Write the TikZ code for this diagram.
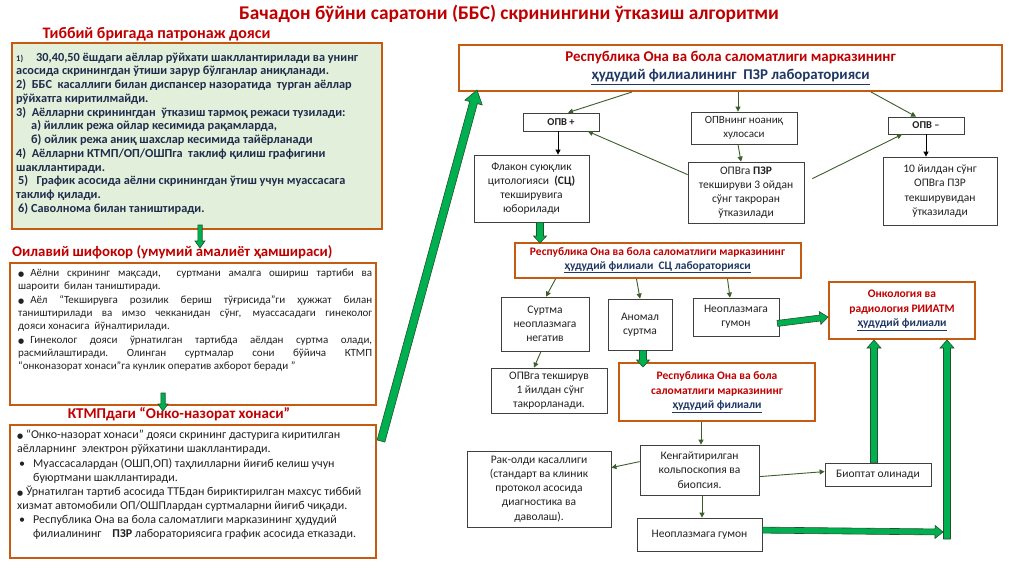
\documentclass[tikz,border=0pt]{standalone}
\usepackage{fontspec}
\setmainfont{Carlito}
\newfontfamily\symfont{DejaVu Sans}
\usetikzlibrary{arrows.meta,calc}
\definecolor{tred}{HTML}{C00000}
\definecolor{tblue}{HTML}{1F3864}
\definecolor{borange}{HTML}{C55A11}
\definecolor{lgreen}{HTML}{E2EFDA}
\definecolor{fgreen}{HTML}{00B050}
\definecolor{dgreen}{HTML}{24502A}
\definecolor{cgreen}{HTML}{3B5E2B}
\definecolor{gborder}{HTML}{404040}
\definecolor{ltext}{HTML}{1F2D4D}
\definecolor{dtext}{HTML}{222222}
\newcommand{\blu}[1]{\textcolor{tblue}{\underline{#1}}}
\newcommand{\bul}{{\symfont\fontsize{7}{8}\selectfont ●}}
\newcommand{\fatarrow}[5]{%
 \path[fatstyle] let \p1=(#1), \p2=(#2), \n1={atan2(\y2-\y1,\x2-\x1)}, \n2={veclen(\x2-\x1,\y2-\y1)-#5pt} in
 ($(\p1)+({\n1+90}:{#3pt})$) -- ($(\p1)+({\n1}:{\n2})+({\n1+90}:{#3pt})$) -- ($(\p1)+({\n1}:{\n2})+({\n1+90}:{#4pt})$) -- (\p2) -- ($(\p1)+({\n1}:{\n2})+({\n1-90}:{#4pt})$) -- ($(\p1)+({\n1}:{\n2})+({\n1-90}:{#3pt})$) -- ($(\p1)+({\n1-90}:{#3pt})$) -- cycle;}
\tikzset{
 gbox/.style={draw=gborder, line width=0.8pt, fill=white, align=center, inner sep=1pt, text=dtext, font=\fontsize{11.5}{14.2}\selectfont},
 obox/.style={draw=borange, line width=2pt, fill=white, align=center, inner sep=1pt},
 conn/.style={draw=cgreen, line width=0.9pt, -{Triangle[length=5pt,width=5pt]}},
 bconn/.style={draw=black, line width=0.9pt, -{Triangle[length=5pt,width=5pt]}},
 fatstyle/.style={fill=fgreen, draw=dgreen, line width=0.6pt},
 hdr/.style={text=tred, font=\fontsize{15}{18}\selectfont\bfseries, inner sep=1pt},
}
\begin{document}
\begin{tikzpicture}[x=1pt,y=-1pt]
\useasboundingbox (0,0) rectangle (1024,574);
\fill[white] (0,0) rectangle (1024,574);

% titles
\node[text=tred, font=\fontsize{19.4}{22}\selectfont\bfseries, inner sep=0] (title) at (509,14) {Бачадон бўйни саратони (ББС) скринингини ўтказиш алгоритми};
\node[hdr, font=\fontsize{16}{19}\selectfont\bfseries] (h1) at (156.5,34) {Тиббий бригада патронаж дояси};
\node[hdr, font=\fontsize{14.8}{18}\selectfont\bfseries, anchor=west] (h2) at (11,252) {Оилавий шифокор (умумий амалиёт ҳамшираси)};
\node[hdr] (h3) at (179,414) {КТМПдаги “Онко-назорат хонаси”};

% left boxes
\node[obox, fill=lgreen, minimum width=370pt, minimum height=186pt] (box1) at (197,136) {};
\node[anchor=north west, inner sep=0, align=left, text=ltext, font=\fontsize{12.3}{13.75}\selectfont\bfseries] (box1t) at (16,52.5) {%
{\fontsize{8.5}{10}\selectfont 1)}\hspace*{13pt}30,40,50 ёшдаги аёллар рўйхати шакллантирилади ва унинг\\
асосида скринингдан ўтиши зарур бўлганлар аниқланади.\\
2)\ \ ББС\ \ касаллиги билан диспансер назоратида\ \ турган аёллар\\
рўйхатга киритилмайди.\\
3)\ \ Аёлларни скринингдан\ \ ўтказиш тармоқ режаси тузилади:\\
\hspace*{15pt}а) йиллик режа ойлар кесимида рақамларда,\\
\hspace*{15pt}б) ойлик режа аниқ шахслар кесимида тайёрланади\\
4)\ \ Аёлларни КТМП/ОП/ОШПга\ \ таклиф қилиш графигини\\
шакллантиради.\\
\hspace*{2pt}5)\ \ \ График асосида аёлни скринингдан ўтиш учун муассасага\\
таклиф қилади.\\
\hspace*{2pt}6) Саволнома билан таништиради.};

\node[obox, minimum width=366pt, minimum height=142pt] (box2) at (193,334) {};
\node[anchor=north west, inner sep=0, align=left, text=dtext, font=\fontsize{11}{13.3}\selectfont] (box2t) at (18,269) {%
\makebox[354pt][s]{\bul\hspace{6pt}Аёлни скрининг мақсади,\ \ суртмани амалга ошириш тартиби ва}\\
шароити\ \ билан таништиради.\\
\makebox[354pt][s]{\bul\hspace{6pt}Аёл “Текширувга розилик бериш тўғрисида”ги ҳужжат билан}\\
\makebox[354pt][s]{таништирилади ва имзо чекканидан сўнг, муассасадаги гинеколог}\\
дояси хонасига\ \ йўналтирилади.\\
\makebox[354pt][s]{\bul\hspace{6pt}Гинеколог дояси ўрнатилган тартибда аёлдан суртма олади,}\\
\makebox[354pt][s]{расмийлаштиради.\ \ Олинган\ \ суртмалар\ \ сони\ \ бўйича\ \ КТМП}\\
“онконазорат хонаси”га кунлик оператив ахборот беради ”};

\node[obox, minimum width=366pt, minimum height=133pt] (box3) at (193,491.5) {};
\node[anchor=north west, inner sep=0, align=left, text=dtext, font=\fontsize{12}{14.1}\selectfont] (box3t) at (17,430) {%
\bul\ “Онко-назорат хонаси” дояси скрининг дастурига киритилган\\
аёлларнинг\ \ электрон рўйхатини шакллантиради.\\
\hspace*{2pt}\makebox[14pt][l]{•}Муассасалардан (ОШП,ОП) таҳлилларни йиғиб келиш учун\\
\hspace*{16pt}буюртмани шакллантиради.\\
\bul\ Ўрнатилган тартиб асосида ТТБдан бириктирилган махсус тиббий\\
хизмат автомобили ОП/ОШПлардан суртмаларни йиғиб чиқади.\\
\hspace*{2pt}\makebox[14pt][l]{•}Республика Она ва бола саломатлиги марказининг ҳудудий\\
\hspace*{16pt}филиалининг\ \ \ \ \textbf{ПЗР} лабораториясига график асосида етказади.};

% small green arrows on left
\coordinate (a1s) at ($(box1.south)+(3,-5)$);
\coordinate (a1e) at ($(box1.south)+(3,18)$);
\fatarrow{a1s}{a1e}{2.2}{5}{7}
\coordinate (a2s) at ($(box2.south)+(-30,-13)$);
\coordinate (a2e) at ($(box2.south)+(-30,5)$);
\fatarrow{a2s}{a2e}{2.2}{5}{7}

% right side nodes
\node[obox, minimum width=543pt, minimum height=46pt, text=tred, font=\fontsize{14.9}{18}\selectfont\bfseries] (top) at (730.5,68) {Республика Она ва бола саломатлиги марказининг\\\blu{ҳудудий филиалининг\ \ ПЗР лабораторияси}};

\node[gbox, minimum width=76pt, minimum height=18pt, font=\fontsize{10.5}{12}\selectfont\bfseries] (opvp) at (561,122) {ОПВ +};
\node[gbox, minimum width=106pt, minimum height=32pt, font=\fontsize{11}{14}\selectfont] (opvn) at (744,128) {ОПВнинг ноаниқ\\хулосаси};
\node[gbox, minimum width=76pt, minimum height=17pt, font=\fontsize{10.5}{12}\selectfont\bfseries] (opvm) at (926,125.5) {ОПВ –};

\node[gbox, minimum width=115pt, minimum height=67pt] (flak) at (531.5,188.5) {Флакон суюқлик\\цитологияси\ \ \textbf{(СЦ)}\\текширувига\\юборилади};
\node[gbox, minimum width=116pt, minimum height=61pt] (pzr) at (746,192.5) {ОПВга \textbf{ПЗР}\\текшируви 3 ойдан\\сўнг такроран\\ўтказилади};
\node[gbox, minimum width=114pt, minimum height=68pt] (ten) at (940,191) {10 йилдан сўнг\\ОПВга ПЗР\\текширувидан\\ўтказилади};

\node[obox, minimum width=286pt, minimum height=35pt, text=tred, font=\fontsize{11.5}{13.5}\selectfont\bfseries] (sc) at (657.5,260.5) {Республика Она ва бола саломатлиги марказининг\\\blu{ҳудудий филиали\ \ СЦ лабораторияси}};

\node[gbox, minimum width=88pt, minimum height=54pt] (surt) at (545,324) {Суртма\\неоплазмага\\негатив};
\node[gbox, minimum width=64pt, minimum height=51pt] (anom) at (640,324.5) {Аномал\\суртма};
\node[gbox, minimum width=86pt, minimum height=38pt] (neo1) at (736,317) {Неоплазмага\\гумон};
\node[obox, minimum width=146pt, minimum height=57pt, text=tred, font=\fontsize{11.5}{14.5}\selectfont\bfseries] (onk) at (902,310.5) {Онкология ва\\радиология РИИАТМ\\\blu{ҳудудий филиали}};

\node[gbox, minimum width=116pt, minimum height=45pt] (opvt) at (549,390.5) {ОПВга текширув\\\ 1 йилдан сўнг\\такрорланади.};
\node[obox, minimum width=196pt, minimum height=58pt, text=tred, font=\fontsize{11.5}{14.5}\selectfont\bfseries] (resp) at (717,392) {Республика Она ва бола\\саломатлиги марказининг\\\blu{ҳудудий филиали}};

\node[gbox, minimum width=119pt, minimum height=50pt] (keng) at (699.5,470) {Кенгайтирилган\\кольпоскопия ва\\биопсия.};
\node[gbox, minimum width=144pt, minimum height=76pt] (rak) at (539,489) {Рак-олди касаллиги\\(стандарт ва клиник\\протокол асосида\\диагностика ва\\даволаш).};
\node[gbox, minimum width=106pt, minimum height=23pt] (biop) at (878,474.5) {Биоптат олинади};
\node[gbox, minimum width=125pt, minimum height=33pt] (neo2) at (699.5,534.5) {Неоплазмага гумон};

% thin connectors
\draw[conn] ([xshift=-98.5pt]top.south) -- ([xshift=7pt]opvp.north);
\draw[conn] ([xshift=-6pt]opvn.north |- top.south) -- ([xshift=-6pt]opvn.north);
\draw[conn] ([xshift=140.5pt]top.south) -- ([xshift=-10pt]opvm.north);
\draw[bconn] ([xshift=-3pt]opvp.south) -- ([xshift=-3pt]opvp.south |- flak.north);
\draw[conn] ([xshift=-6pt]opvn.south) -- ([xshift=-5pt]pzr.north);
\draw[conn] ($(pzr.north west)+(0,13)$) -- ([xshift=27pt]opvp.south);
\draw[conn] ($(pzr.north east)+(8,17)$) -- ([xshift=-24pt]opvm.south);
\draw[bconn] (opvm.south) -- (opvm.south |- ten.north);
\draw[conn] ([xshift=-102pt]sc.south) -- ([xshift=1pt]surt.north);
\draw[conn] ([xshift=-21pt]sc.south) -- (anom.north);
\draw[conn] ([xshift=70pt]sc.south) -- ([xshift=-6pt]neo1.north);
\draw[conn] ([xshift=-4pt]surt.south) -- ([xshift=-15pt]opvt.north);
\draw[conn] ([xshift=1.5pt]keng.north |- resp.south) -- ([xshift=1.5pt]keng.north);
\draw[conn] ($(keng.north west)+(0,17)$) -- ($(rak.north east)+(0,17)$);
\draw[conn] ($(keng.north east)+(0,32)$) -- ($(biop.north west)+(0,9)$);
\draw[conn] ([xshift=2.5pt]keng.south) -- ([xshift=2.5pt]keng.south |- neo2.north);

% fat green arrows
\coordinate (bigtail) at (381,441);
\coordinate (bighead) at ($(top.south west)+(19,-2)$);
\fatarrow{bigtail}{bighead}{4}{9}{13}
\coordinate (f1s) at ([xshift=8.5pt]flak.south);
\coordinate (f1e) at ($(f1s |- sc.north)+(0,1)$);
\fatarrow{f1s}{f1e}{3.5}{6.5}{7}
\coordinate (f2s) at ([xshift=3pt]anom.south);
\coordinate (f2e) at ($(f2s |- resp.north)+(0,5)$);
\fatarrow{f2s}{f2e}{3.5}{6.5}{7}
\coordinate (f3s) at ($(neo1.south east)+(-2,-13)$);
\coordinate (f3e) at ($(onk.west)+(0,6.5)$);
\fatarrow{f3s}{f3e}{3}{6.5}{8}
\coordinate (f4s) at ($(neo2.north east)+(0,12.5)$);
\coordinate (f4e) at ($(onk.south east)+(-33,192)$);
\fatarrow{f4s}{f4e}{3}{6.5}{8}
\coordinate (f5s) at ($(onk.south east)+(-29,199)$);
\coordinate (f5e) at ($(onk.south east)+(-29,0)$);
\fatarrow{f5s}{f5e}{3.5}{7}{8}
\coordinate (f6s) at ([xshift=-4pt]biop.north);
\coordinate (f6e) at (f6s |- onk.south);
\fatarrow{f6s}{f6e}{3.5}{7}{8}
\end{tikzpicture}
\end{document}
